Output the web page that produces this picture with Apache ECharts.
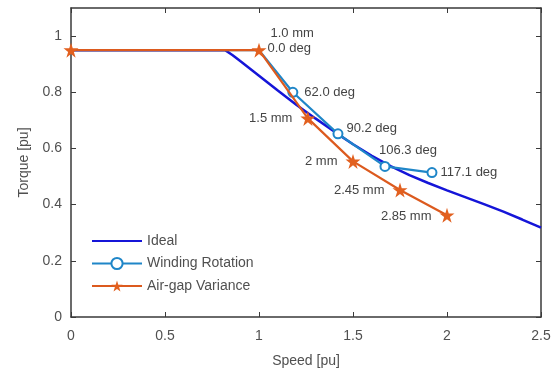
<!DOCTYPE html>
<html><head><meta charset="utf-8">
<script src="https://cdn.jsdelivr.net/npm/echarts@6/dist/echarts.min.js"></script>
<style>html,body{margin:0;padding:0;background:#fff}#c{width:560px;height:379px}</style>
</head><body><div id="c"></div>
<script>
const xTicks = [0, 0.5, 1, 1.5, 2, 2.5];
const yTicks = [0, 0.2, 0.4, 0.6, 0.8, 1];
const idealX = [0, 0.82, 0.86, 0.9, 1.0, 1.1, 1.2, 1.3, 1.4, 1.5, 1.6, 1.7, 1.8, 1.9, 2.0, 2.1, 2.2, 2.3, 2.4, 2.5];
const idealY = [0.95, 0.95, 0.932, 0.911, 0.859, 0.806, 0.755, 0.707, 0.66, 0.615, 0.574, 0.537, 0.505, 0.477, 0.451, 0.426, 0.401, 0.375, 0.347, 0.318];
const windX = [0, 1.0, 1.18, 1.42, 1.67, 1.92];
const windY = [0.95, 0.95, 0.80, 0.652, 0.536, 0.514];
const windLabels = ['', '0.0 deg', '62.0 deg', '90.2 deg', '106.3 deg', '117.1 deg'];
const gapX = [0, 1.0, 1.26, 1.5, 1.75, 2.0];
const gapY = [0.95, 0.95, 0.707, 0.554, 0.452, 0.362];
const gapLabels = ['', '1.0 mm', '1.5 mm', '2 mm', '2.45 mm', '2.85 mm'];

const FONT = 'Liberation Sans, Arial, sans-serif';
const txt = '#505050';
const axisCol = '#3a3a3a';

const windPos = [
  {hide: true},
  {hide: true},
  {position: 'right', distance: 6},
  {position: 'right', distance: 6, offset: [-3, -5]},
  {position: 'top', distance: 6, offset: [23, 2]},
  {position: 'right', distance: 6, offset: [-3, 0]}
];
const gapPos = [
  null,
  {position: 'right', distance: 8, offset: [-7, -9], lineHeight: 15},
  {position: 'left', distance: 8},
  {position: 'left', distance: 8},
  {position: 'left', distance: 8},
  {position: 'left', distance: 8, offset: [0, 1]}
];

function mk(xs, ys, labels, pos) {
  return xs.map((x, i) => {
    const d = {value: [x, ys[i]]};
    const p = pos ? pos[i] : null;
    if (p && p.hide) { d.symbol = 'none'; return d; }
    if (labels && labels[i]) {
      d.label = Object.assign({show: true, formatter: labels[i], color: '#444', fontSize: 13, fontFamily: FONT}, p);
    }
    return d;
  });
}

// the 0.0 deg label of the hidden winding point is shown beside the shared point
const gapData = mk(gapX, gapY, gapLabels, gapPos);
gapData[1].label.formatter = '{a|' + gapLabels[1] + '}\n' + windLabels[1];
gapData[1].label.rich = {a: {padding: [0, 0, 0, 3], fontSize: 13, color: '#444', fontFamily: FONT}};

const chart = echarts.init(document.getElementById('c'), null, {renderer: 'canvas'});
const baseX = {
  type: 'value', min: 0, max: 2.5, interval: 0.5,
  axisLine: {show: true, onZero: false, lineStyle: {color: axisCol, width: 1.5}},
  axisTick: {show: true, inside: true, length: 5, lineStyle: {color: axisCol}},
  splitLine: {show: false}
};
const baseY = {
  type: 'value', min: 0, max: 1.1, interval: 0.2,
  axisLine: {show: true, onZero: false, lineStyle: {color: axisCol, width: 1.5}},
  axisTick: {show: true, inside: true, length: 5, lineStyle: {color: axisCol}},
  splitLine: {show: false}
};
chart.setOption({
  animation: false,
  grid: {left: 71, right: 19, top: 8, bottom: 62},
  xAxis: [
    Object.assign({}, baseX, {
      position: 'bottom',
      name: 'Speed [pu]', nameLocation: 'middle', nameGap: 37,
      nameTextStyle: {color: txt, fontSize: 14, fontFamily: FONT},
      axisLabel: {color: txt, fontSize: 14, fontFamily: FONT, margin: 12,
        formatter: v => xTicks.includes(v) ? String(v) : ''}
    }),
    Object.assign({}, baseX, {position: 'top', axisLabel: {show: false}})
  ],
  yAxis: [
    Object.assign({}, baseY, {
      position: 'left',
      name: 'Torque [pu]', nameLocation: 'middle', nameGap: 40,
      nameTextStyle: {color: txt, fontSize: 14, fontFamily: FONT},
      axisLabel: {color: txt, fontSize: 14, fontFamily: FONT, margin: 9, showMaxLabel: false,
        formatter: v => yTicks.some(t => Math.abs(t - v) < 1e-9) ? String(Math.round(v * 10) / 10) : ''}
    }),
    Object.assign({}, baseY, {position: 'right', axisLabel: {show: false}})
  ],
  legend: {
    orient: 'vertical', left: 86, top: 229, itemWidth: 50, itemHeight: 14, itemGap: 8.5,
    textStyle: {color: txt, fontSize: 14, fontFamily: FONT},
    data: [
      {name: 'Ideal', itemStyle: {opacity: 0}},
      'Winding Rotation',
      'Air-gap Variance'
    ]
  },
  series: [
    {
      name: 'Ideal', type: 'line', smooth: false, showSymbol: false, symbol: 'none',
      data: mk(idealX, idealY),
      lineStyle: {color: '#1515d8', width: 2.5}, itemStyle: {color: '#1515d8'}, z: 2
    },
    {
      name: 'Winding Rotation', type: 'line', symbol: 'circle', symbolSize: 9,
      data: mk(windX, windY, windLabels, windPos),
      lineStyle: {color: '#1f86c8', width: 2.2},
      itemStyle: {color: '#ffffff', borderColor: '#1f86c8', borderWidth: 2}, z: 3
    },
    {
      name: 'Air-gap Variance', type: 'line',
      symbol: 'path://M50,0 L61.2,34.5 L97.6,34.5 L68.2,55.9 L79.4,90.5 L50,69.1 L20.6,90.5 L31.8,55.9 L2.4,34.5 L38.8,34.5 Z',
      symbolSize: 15,
      data: gapData,
      lineStyle: {color: '#dc5a1e', width: 2.2},
      itemStyle: {color: '#e2601f'}, z: 4
    }
  ]
});
</script></body></html>
